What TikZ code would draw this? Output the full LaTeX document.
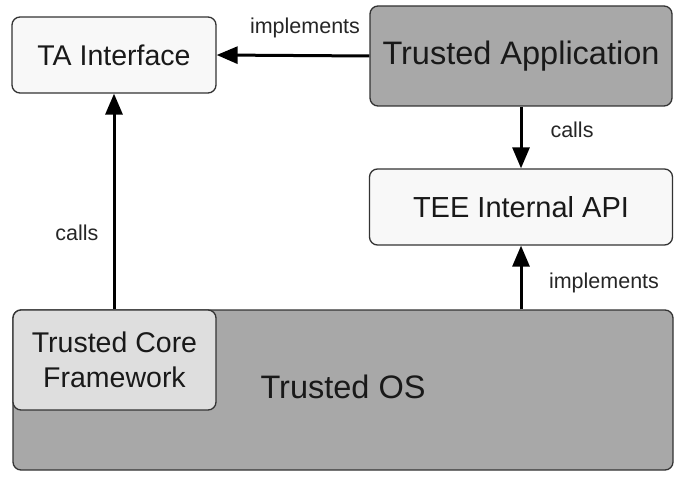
\documentclass[tikz,border=0pt]{standalone}
\usepackage{fontspec}
\setmainfont{Liberation Sans}
\usetikzlibrary{arrows.meta}
\definecolor{lightbox}{HTML}{F8F8F8}
\definecolor{darkbox}{HTML}{A8A8A8}
\definecolor{midbox}{HTML}{DEDEDE}
\definecolor{edge}{HTML}{333333}
\begin{document}
\begin{tikzpicture}[x=1pt,y=-1pt,
  box/.style={draw=edge, line width=1.3pt, rounded corners=8pt, inner sep=0pt, align=center, text=black!90},
  conn/.style={line width=3pt, -{Triangle[length=21pt,width=17pt]}},
  lbl/.style={font=\fontsize{21.5}{25}\selectfont, text=black!85}]
\useasboundingbox (0,0) rectangle (684,478);
\node[box, fill=darkbox, minimum width=660pt, minimum height=160pt] (os) at (343,390) {};
\node[font=\fontsize{32.5}{38}\selectfont, text=black!90] (ostext) at (343,387) {Trusted OS};
\node[box, fill=midbox, minimum width=203pt, minimum height=100pt, font=\fontsize{28.5}{35}\selectfont] (tcf) at (114.5,360) {Trusted Core\\Framework};
\node[box, fill=lightbox, minimum width=204pt, minimum height=76pt, font=\fontsize{28.5}{32}\selectfont] (tai) at (114,55) {TA Interface};
\node[box, fill=darkbox, minimum width=302pt, minimum height=100pt, font=\fontsize{32.5}{38}\selectfont] (tapp) at (521,56) {Trusted Application};
\node[box, fill=lightbox, minimum width=303pt, minimum height=76pt, font=\fontsize{29}{32}\selectfont] (tee) at (521,207) {TEE Internal API};
\coordinate (osup) at (tee.south |- os.north);
\coordinate (tcfup) at (tai.south |- tcf.north);
\draw[conn] (tapp.west) -- (tai.east);
\draw[conn] (tapp.south) -- (tee.north);
\draw[conn] (osup) -- (tee.south);
\draw[conn] (tcfup) -- (tai.south);
\node[lbl] (l1) at (305,28) {implements};
\node[lbl] (l2) at (572,130) {calls};
\node[lbl] (l3) at (604,283) {implements};
\node[lbl] (l4) at (77,233) {calls};
\end{tikzpicture}
\end{document}
